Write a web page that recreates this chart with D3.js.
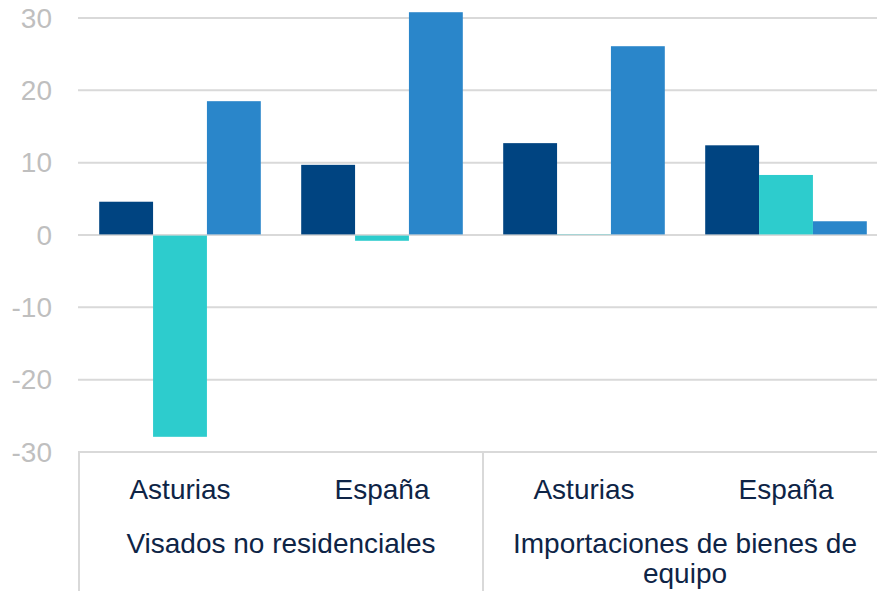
<!DOCTYPE html>
<html>
<head>
<meta charset="utf-8">
<script src="https://cdn.jsdelivr.net/npm/d3@7"></script>
<style>
  body { margin: 0; background: #fff; }
  text { font-family: "Liberation Sans", Arial, sans-serif; }
</style>
</head>
<body>
<div id="chart"></div>
<script>
// categories (region / indicator group)
var regions = ["Asturias", "España", "Asturias", "España"]
var groups = ["Visados no residenciales", "Importaciones de bienes de equipo"]
var groupLines = [["Visados no residenciales"], ["Importaciones de bienes de", "equipo"]]

// three series, one value per category
var serieA = [4.6, 9.7, 12.7, 12.4]
var serieB = [-27.9, -0.8, 0.1, 8.3]
var serieC = [18.5, 30.8, 26.1, 1.9]

var yTicks = [-30, -20, -10, 0, 10, 20, 30]
var colors = ["#004481", "#2DCCCD", "#2A86CA"]

var W = 877, H = 591
var margin = {top: 18, right: -10, bottom: 139, left: 79},
    width = W - margin.left - margin.right,
    height = H - margin.top - margin.bottom;

var svg = d3.select("#chart").append("svg")
    .attr("width", W).attr("height", H)

var g = svg.append("g")
    .attr("transform", "translate(" + margin.left + "," + margin.top + ")")

var keys = d3.range(regions.length)
var x0 = d3.scaleBand().domain(keys).range([0, width]).paddingInner(0.2).paddingOuter(0.1)
var outer = d3.scaleBand().domain(keys).range([0, width])
var x1 = d3.scaleBand().domain([0, 1, 2]).range([0, x0.bandwidth()])
var y = d3.scaleLinear().domain([-30, 30]).range([height, 0])

// gridlines
g.selectAll(".grid").data(yTicks).enter()
  .append("line")
    .attr("x1", -1).attr("x2", width)
    .attr("y1", function(d){ return y(d) }).attr("y2", function(d){ return y(d) })
    .attr("stroke", "#D9D9D9").attr("stroke-width", 2)

// tick labels
g.selectAll(".tick").data(yTicks).enter()
  .append("text")
    .attr("x", -27)
    .attr("y", function(d){ return y(d) })
    .attr("dy", "0.35em")
    .attr("text-anchor", "end")
    .attr("font-size", "28px")
    .attr("fill", "#BFBFBF")
    .text(function(d){ return d })

// bars
var series = [serieA, serieB, serieC]
series.forEach(function(vals, s){
  g.selectAll(".bar" + s).data(vals).enter()
    .append("rect")
      .attr("x", function(d, i){ return x0(i) + x1(s) })
      .attr("width", x1.bandwidth())
      .attr("y", function(d){ return y(Math.max(0, d)) })
      .attr("height", function(d){ return Math.abs(y(d) - y(0)) })
      .attr("fill", colors[s])
})

// zero line over bar bases
g.append("line")
  .attr("x1", 0).attr("x2", width)
  .attr("y1", y(0)).attr("y2", y(0))
  .attr("stroke", "#D9D9D9").attr("stroke-opacity", 0.6).attr("stroke-width", 2)

// category axis separators
var sep = [0, 2 * outer.bandwidth(), width]
g.selectAll(".sep").data(sep).enter()
  .append("line")
    .attr("x1", function(d){ return d }).attr("x2", function(d){ return d })
    .attr("y1", height).attr("y2", H - margin.top)
    .attr("stroke", "#D9D9D9").attr("stroke-width", 2)

// region labels
g.selectAll(".reg").data(regions).enter()
  .append("text")
    .attr("x", function(d, i){ return outer(i) + outer.bandwidth() / 2 })
    .attr("y", 499 - margin.top)
    .attr("text-anchor", "middle")
    .attr("font-size", "28px")
    .attr("fill", "#0E2446")
    .text(function(d){ return d })

// group labels
groupLines.forEach(function(lines, gi){
  var cx = (gi * 2 + 1) * outer.bandwidth()
  lines.forEach(function(t, li){
    g.append("text")
      .attr("x", cx)
      .attr("y", 553 - margin.top + li * 30)
      .attr("text-anchor", "middle")
      .attr("font-size", "28px")
      .attr("fill", "#0E2446")
      .text(t)
  })
})
</script>
</body>
</html>
